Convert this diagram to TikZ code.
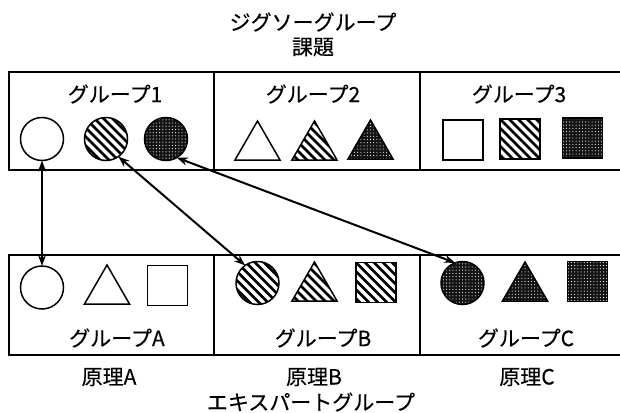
\documentclass[tikz,border=0pt]{standalone}
\usepackage{fontspec}
\setmainfont{Noto Sans CJK JP}[FakeBold=0.3]
\usetikzlibrary{shapes.geometric,arrows.meta}
\tikzset{
  frame/.style={line width=1.8pt},
  shp/.style={draw, line width=1.5pt, inner sep=0pt, outer sep=0pt, fill=white},
  circ/.style={shp, circle, minimum size=43pt},
  tri/.style={shp, regular polygon, regular polygon sides=3, minimum size=52pt},
  sqr/.style={shp, rectangle, minimum size=40pt},
  hatch/.style={path picture={
    \foreach \i in {-72,-63,...,72}
      \draw[line width=2.5pt] ([shift={(\i-36,-36)}]path picture bounding box.center) -- ([shift={(\i+36,36)}]path picture bounding box.center);}},
  dots/.style={fill=black!92, path picture={
    \foreach \i in {-8,...,8}{\foreach \j in {-8,...,8}{
      \fill[white] ([shift={(\i*3.2,\j*3.2)}]path picture bounding box.center) circle (0.55);}}}},
  lbl/.style={font=\fontsize{21pt}{23pt}\selectfont, inner sep=0pt},
  link/.style={line width=2pt, {Stealth[length=11pt,width=8pt]}-{Stealth[length=11pt,width=8pt]}}
}
\begin{document}
\begin{tikzpicture}[x=1pt,y=-1pt]
\useasboundingbox (0,0) rectangle (620,412);
% titles
\node[lbl] (t1) at (313,22) {ジグソーグループ};
\node[lbl] (t2) at (313,47) {課題};
% top frame
\draw[frame] (620,72) -- (9,72) -- (9,170) -- (620,170);
\draw[frame] (214,72) -- (214,170);
\draw[frame] (420,72) -- (420,170);
% bottom frame
\draw[frame] (620,255) -- (9,255) -- (9,355) -- (620,355);
\draw[frame] (214,255) -- (214,355);
\draw[frame] (420,255) -- (420,355);
% group labels top
\node[lbl] (g1) at (115,94) {グループ1};
\node[lbl] (g2) at (313,94) {グループ2};
\node[lbl] (g3) at (519,94) {グループ3};
% top shapes
\node[circ] (c1) at (42,139) {};
\node[circ,hatch] (c2) at (106,139) {};
\node[circ,dots] (c3) at (166,139) {};
\node[tri] (r1) at (257.5,147) {};
\node[tri,hatch] (r2) at (314.5,147) {};
\node[tri,dots] (r3) at (370.5,146) {};
\node[sqr] (s1) at (463,140) {};
\node[sqr,hatch] (s2) at (520,139) {};
\node[sqr,dots] (s3) at (582.5,138) {};
% bottom shapes
\node[circ] (ca) at (42,287.5) {};
\node[tri] (ra) at (107,291) {};
\node[sqr] (sa) at (167.5,285.5) {};
\node[circ,hatch] (cb) at (257.5,283) {};
\node[tri,hatch] (rb) at (314.5,288) {};
\node[sqr,hatch] (sb) at (376,282.5) {};
\node[circ,dots] (cc) at (462.5,283) {};
\node[tri,dots] (rc) at (525,288) {};
\node[sqr,dots] (sc) at (587.5,281.5) {};
% bottom labels
\node[lbl] (ga) at (117,338) {グループA};
\node[lbl] (gb) at (323,338) {グループB};
\node[lbl] (gc) at (526,338) {グループC};
\node[lbl] (pa) at (109,377) {原理A};
\node[lbl] (pb) at (314,377) {原理B};
\node[lbl] (pc) at (527,377) {原理C};
\node[lbl] (ex) at (311,402) {エキスパートグループ};
% links
\draw[link] (c1.south) -- (ca.north);
\draw[link] (c2.-55) -- (cb.125);
\draw[link] (c3.-60) -- (cc.110);
\end{tikzpicture}
\end{document}
